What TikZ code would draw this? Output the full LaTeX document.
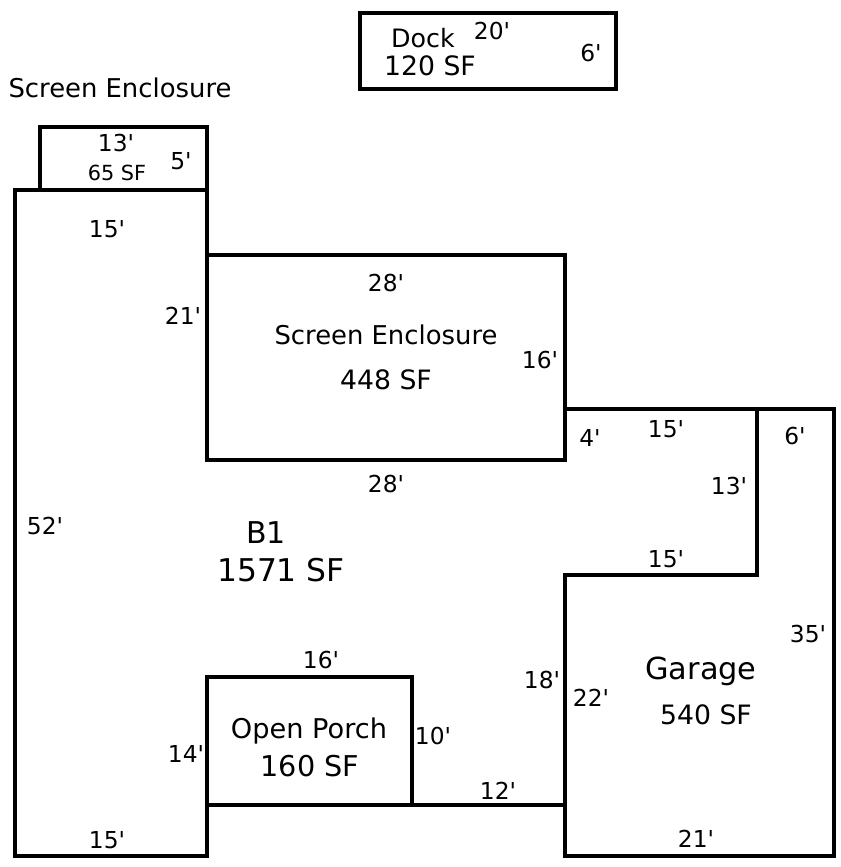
\documentclass[tikz,border=0pt]{standalone}
\usepackage{fontspec}
\newfontfamily\vf{DejaVu Sans}
\tikzset{
  wall/.style={line width=3.5pt,line cap=rect,line join=miter,black},
  lab/.style={inner sep=0pt,font=\vf\fontsize{17.5}{20}\selectfont},
  txt/.style={inner sep=0pt,font=\vf\fontsize{#1}{#1}\selectfont},
}
\begin{document}
\begin{tikzpicture}[x=0.75pt,y=-0.75pt]
\useasboundingbox (0,0) rectangle (841,867);
\fill[white] (0,0) rectangle (841,867);
% dock
\draw[wall] (360,13) rectangle (616,89);
% small screen enclosure
\draw[wall] (40,190) -- (40,127) -- (207,127) -- (207,190);
% outline
\draw[wall] (15,190) -- (207,190) -- (207,460) -- (565,460) -- (565,255) -- (207,255);
\draw[wall] (15,190) -- (15,856) -- (207,856) -- (207,805) -- (565,805);
\draw[wall] (207,805) -- (207,677) -- (412,677) -- (412,805);
\draw[wall] (565,409) -- (834,409) -- (834,856) -- (565,856) -- (565,575) -- (757,575) -- (757,409);
% texts
\node[txt=19] (t01) at (423,38) {Dock};
\node[lab] (t02) at (492,31) {20'};
\node[lab] (t03) at (591,53) {6'};
\node[txt=20] (t04) at (430,66) {120 SF};
\node[txt=19.4] (t05) at (120,88) {Screen Enclosure};
\node[lab] (t06) at (116,143) {13'};
\node[lab] (t07) at (181,161) {5'};
\node[txt=15.6] (t08) at (117,173) {65 SF};
\node[lab] (t09) at (107,229) {15'};
\node[lab] (t10) at (183,316) {21'};
\node[lab] (t11) at (386,283) {28'};
\node[txt=19.4] (t12) at (386,335) {Screen Enclosure};
\node[txt=20] (t13) at (386,380) {448 SF};
\node[lab] (t14) at (540,360) {16'};
\node[lab] (t15) at (590,438) {4'};
\node[lab] (t16) at (666,429) {15'};
\node[lab] (t17) at (795,436) {6'};
\node[lab] (t18) at (729,486) {13'};
\node[lab] (t19) at (386,484) {28'};
\node[lab] (t20) at (45,526) {52'};
\node[txt=22.5] (t21) at (266,533) {B1};
\node[txt=23.5] (t22) at (281,570) {1571 SF};
\node[lab] (t23) at (666,559) {15'};
\node[lab] (t24) at (808,634) {35'};
\node[lab] (t25) at (321,660) {16'};
\node[txt=22.8] (t26) at (701,671) {Garage};
\node[lab] (t27) at (542,680) {18'};
\node[lab] (t28) at (591,698) {22'};
\node[txt=20] (t29) at (706,715) {540 SF};
\node[txt=20.4] (t30) at (309,731) {Open Porch};
\node[lab] (t31) at (433,736) {10'};
\node[lab] (t32) at (186,754) {14'};
\node[txt=21.5] (t33) at (310,766) {160 SF};
\node[lab] (t34) at (498,791) {12'};
\node[lab] (t35) at (107,840) {15'};
\node[lab] (t36) at (696,839) {21'};
\end{tikzpicture}
\end{document}
